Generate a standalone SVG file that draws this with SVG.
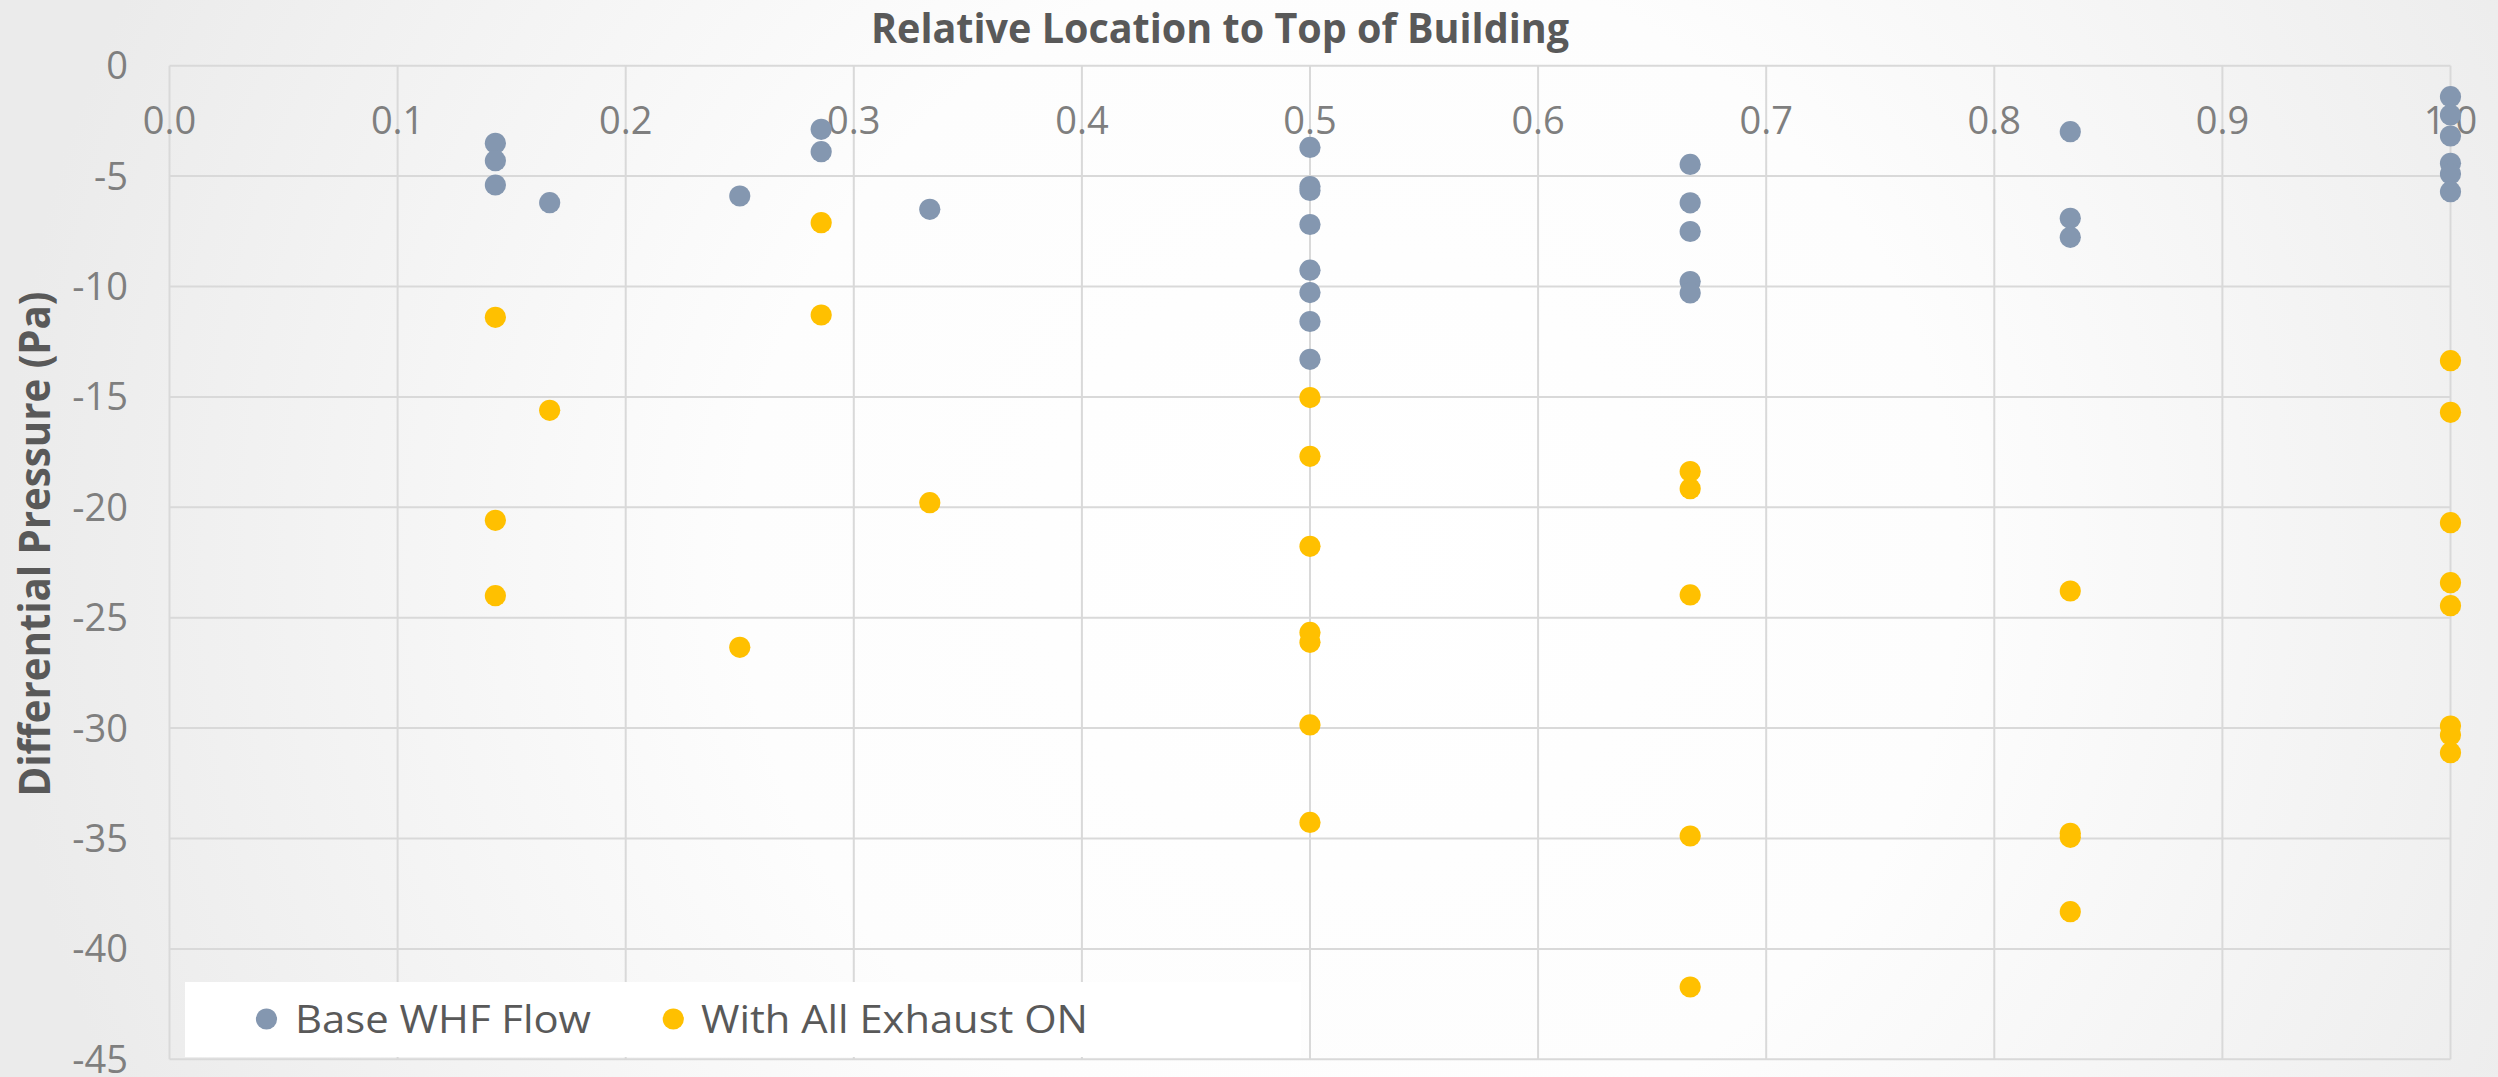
<svg xmlns="http://www.w3.org/2000/svg" width="2498" height="1077" viewBox="0 0 2498 1077">
  <style>
    .grid line { stroke: #d9d9d9; stroke-width: 2; }
    .tick { font-family: "Open Sans", "Liberation Sans", sans-serif; font-size: 38px; fill: #7f7f7f; }
    .xt { text-anchor: middle; }
    .yt { text-anchor: end; }
    .title { font-family: "Open Sans", "Liberation Sans", sans-serif; font-weight: 700; fill: #595959; }
    .leg { font-family: "Open Sans", "Liberation Sans", sans-serif; font-size: 39px; fill: #595959; }
    .base { fill: #8497b0; }
    .exh { fill: #ffc000; }
  </style>
  <defs>
    <radialGradient id="bg" gradientUnits="userSpaceOnUse" cx="1350" cy="560" r="1350">
      <stop offset="0" stop-color="#ffffff"/>
      <stop offset="0.45" stop-color="#fdfdfd"/>
      <stop offset="1" stop-color="#ebebeb"/>
    </radialGradient>
  </defs>

  <!-- chart background -->
  <rect x="0" y="0" width="2498" height="1077" fill="url(#bg)"/>

  <!-- gridlines -->
  <g class="grid" id="gridlines">
    <line x1="169.5" y1="65.7" x2="2450.5" y2="65.7"/>
    <line x1="169.5" y1="176.1" x2="2450.5" y2="176.1"/>
    <line x1="169.5" y1="286.5" x2="2450.5" y2="286.5"/>
    <line x1="169.5" y1="396.9" x2="2450.5" y2="396.9"/>
    <line x1="169.5" y1="507.3" x2="2450.5" y2="507.3"/>
    <line x1="169.5" y1="617.7" x2="2450.5" y2="617.7"/>
    <line x1="169.5" y1="728.1" x2="2450.5" y2="728.1"/>
    <line x1="169.5" y1="838.5" x2="2450.5" y2="838.5"/>
    <line x1="169.5" y1="948.9" x2="2450.5" y2="948.9"/>
    <line x1="169.5" y1="1059.3" x2="2450.5" y2="1059.3"/>
    <line x1="169.5" y1="65.7" x2="169.5" y2="1059.3"/>
    <line x1="397.6" y1="65.7" x2="397.6" y2="1059.3"/>
    <line x1="625.7" y1="65.7" x2="625.7" y2="1059.3"/>
    <line x1="853.8" y1="65.7" x2="853.8" y2="1059.3"/>
    <line x1="1081.9" y1="65.7" x2="1081.9" y2="1059.3"/>
    <line x1="1310" y1="65.7" x2="1310" y2="1059.3"/>
    <line x1="1538.1" y1="65.7" x2="1538.1" y2="1059.3"/>
    <line x1="1766.2" y1="65.7" x2="1766.2" y2="1059.3"/>
    <line x1="1994.3" y1="65.7" x2="1994.3" y2="1059.3"/>
    <line x1="2222.4" y1="65.7" x2="2222.4" y2="1059.3"/>
    <line x1="2450.5" y1="65.7" x2="2450.5" y2="1059.3"/>
  </g>

  <!-- titles -->
  <text class="title" x="871" y="43" font-size="41" textLength="698" lengthAdjust="spacingAndGlyphs">Relative Location to Top of Building</text>
  <text class="title" transform="translate(50,544) rotate(-90)" x="0" y="0" font-size="43" text-anchor="middle" textLength="505" lengthAdjust="spacingAndGlyphs">Differential Pressure (Pa)</text>

  <!-- x axis labels (top) -->
  <g id="x-labels" class="tick xt">
    <text x="169.5" y="134">0.0</text>
    <text x="397.6" y="134">0.1</text>
    <text x="625.7" y="134">0.2</text>
    <text x="853.8" y="134">0.3</text>
    <text x="1081.9" y="134">0.4</text>
    <text x="1310" y="134">0.5</text>
    <text x="1538.1" y="134">0.6</text>
    <text x="1766.2" y="134">0.7</text>
    <text x="1994.3" y="134">0.8</text>
    <text x="2222.4" y="134">0.9</text>
    <text x="2450.5" y="134">1.0</text>
  </g>

  <!-- y axis labels -->
  <g id="y-labels" class="tick yt">
    <text x="128" y="79.2">0</text>
    <text x="128" y="189.6">-5</text>
    <text x="128" y="300">-10</text>
    <text x="128" y="410.4">-15</text>
    <text x="128" y="520.8">-20</text>
    <text x="128" y="631.2">-25</text>
    <text x="128" y="741.6">-30</text>
    <text x="128" y="852">-35</text>
    <text x="128" y="962.4">-40</text>
    <text x="128" y="1072.8">-45</text>
  </g>

  <!-- series: Base WHF Flow -->
  <g id="series-base" class="base">
    <circle cx="495.4" cy="143.3" r="10.6"/>
    <circle cx="495.4" cy="160.7" r="10.6"/>
    <circle cx="495.4" cy="185" r="10.6"/>
    <circle cx="549.7" cy="202.7" r="10.6"/>
    <circle cx="739.8" cy="196" r="10.6"/>
    <circle cx="821.2" cy="129.3" r="10.6"/>
    <circle cx="821.2" cy="151.7" r="10.6"/>
    <circle cx="929.8" cy="209.3" r="10.6"/>
    <circle cx="1310" cy="147.4" r="10.6"/>
    <circle cx="1310" cy="186.5" r="10.6"/>
    <circle cx="1310" cy="190.5" r="10.6"/>
    <circle cx="1310" cy="224.5" r="10.6"/>
    <circle cx="1310" cy="270.2" r="10.6"/>
    <circle cx="1310" cy="292.6" r="10.6"/>
    <circle cx="1310" cy="321.5" r="10.6"/>
    <circle cx="1310" cy="359.3" r="10.6"/>
    <circle cx="1690.2" cy="164.4" r="10.6"/>
    <circle cx="1690.2" cy="202.8" r="10.6"/>
    <circle cx="1690.2" cy="231.5" r="10.6"/>
    <circle cx="1690.2" cy="281.5" r="10.6"/>
    <circle cx="1690.2" cy="293" r="10.6"/>
    <circle cx="2070.3" cy="131.7" r="10.6"/>
    <circle cx="2070.3" cy="218.3" r="10.6"/>
    <circle cx="2070.3" cy="237.3" r="10.6"/>
    <circle cx="2450.5" cy="96.7" r="10.6"/>
    <circle cx="2450.5" cy="115" r="10.6"/>
    <circle cx="2450.5" cy="136" r="10.6"/>
    <circle cx="2450.5" cy="163.3" r="10.6"/>
    <circle cx="2450.5" cy="174" r="10.6"/>
    <circle cx="2450.5" cy="191.7" r="10.6"/>
  </g>

  <!-- series: With All Exhaust ON -->
  <g id="series-exhaust" class="exh">
    <circle cx="495.4" cy="317.3" r="10.6"/>
    <circle cx="495.4" cy="520.3" r="10.6"/>
    <circle cx="495.4" cy="595.7" r="10.6"/>
    <circle cx="549.7" cy="410.3" r="10.6"/>
    <circle cx="739.8" cy="647.3" r="10.6"/>
    <circle cx="821.2" cy="222.7" r="10.6"/>
    <circle cx="821.2" cy="315" r="10.6"/>
    <circle cx="929.8" cy="502.7" r="10.6"/>
    <circle cx="1310" cy="397.6" r="10.6"/>
    <circle cx="1310" cy="456.3" r="10.6"/>
    <circle cx="1310" cy="546.3" r="10.6"/>
    <circle cx="1310" cy="632.4" r="10.6"/>
    <circle cx="1310" cy="642.3" r="10.6"/>
    <circle cx="1310" cy="724.9" r="10.6"/>
    <circle cx="1310" cy="822.4" r="10.6"/>
    <circle cx="1690.2" cy="471.5" r="10.6"/>
    <circle cx="1690.2" cy="488.7" r="10.6"/>
    <circle cx="1690.2" cy="594.9" r="10.6"/>
    <circle cx="1690.2" cy="836" r="10.6"/>
    <circle cx="1690.2" cy="987" r="10.6"/>
    <circle cx="2070.3" cy="591" r="10.6"/>
    <circle cx="2070.3" cy="833.3" r="10.6"/>
    <circle cx="2070.3" cy="837.3" r="10.6"/>
    <circle cx="2070.3" cy="911.7" r="10.6"/>
    <circle cx="2450.5" cy="360.7" r="10.6"/>
    <circle cx="2450.5" cy="412.3" r="10.6"/>
    <circle cx="2450.5" cy="522.7" r="10.6"/>
    <circle cx="2450.5" cy="582.7" r="10.6"/>
    <circle cx="2450.5" cy="605.7" r="10.6"/>
    <circle cx="2450.5" cy="726" r="10.6"/>
    <circle cx="2450.5" cy="735" r="10.6"/>
    <circle cx="2450.5" cy="752.7" r="10.6"/>
  </g>

  <!-- legend -->
  <g id="legend">
    <rect x="185" y="982" width="1116" height="75" fill="#ffffff"/>
    <circle class="base" cx="266.5" cy="1019" r="10.6"/>
    <text class="leg" x="295" y="1032.7" textLength="296" lengthAdjust="spacingAndGlyphs">Base WHF Flow</text>
    <circle class="exh" cx="673.3" cy="1019" r="10.6"/>
    <text class="leg" x="701" y="1032.7" textLength="387" lengthAdjust="spacingAndGlyphs">With All Exhaust ON</text>
  </g>
</svg>
